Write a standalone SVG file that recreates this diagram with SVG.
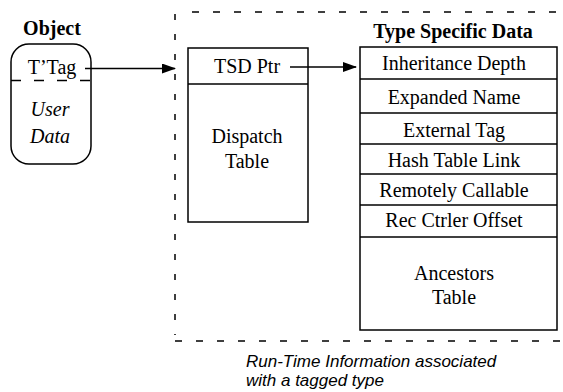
<svg xmlns="http://www.w3.org/2000/svg" width="563" height="392" viewBox="0 0 563 392">
<style>
.t{font-family:"Liberation Serif","Times New Roman",serif;font-size:20px;fill:#000;text-anchor:middle}
.b{font-weight:bold}
.i{font-style:italic}
.box{fill:#fff;stroke:#000;stroke-width:1.5}
.ln{stroke:#000;stroke-width:1.5;fill:none}
.frame{stroke:#000;stroke-width:1.5;fill:none;stroke-dasharray:7 14}
.cap{font-family:"Liberation Sans",Arial,sans-serif;font-size:17px;font-style:italic;fill:#000}
</style>
<defs>
<marker id="ah" markerWidth="14" markerHeight="10" refX="13" refY="5" orient="auto" markerUnits="userSpaceOnUse">
<path d="M0,0 L14,5 L0,10 Z" fill="#000"/>
</marker>
</defs>
<rect width="563" height="392" fill="#fff"/>
<g id="frame">
<line class="frame" x1="192" y1="12" x2="563" y2="12"/>
<line class="frame" x1="175" y1="14" x2="175" y2="335" style="stroke-dasharray:6 14"/>
<line class="frame" x1="175" y1="341" x2="563" y2="341"/>
</g>
<g id="object">
<text class="t b" x="52" y="35">Object</text>
<rect class="box" x="11" y="44" width="80" height="120" rx="18" ry="18"/>
<line class="ln" x1="11" y1="80.5" x2="91" y2="80.5" style="stroke-dasharray:10 13"/>
<text class="t" x="52" y="74">T’Tag</text>
<text class="t i" x="50" y="116">User</text>
<text class="t i" x="50" y="143">Data</text>
</g>
<g id="dispatch">
<rect class="box" x="188" y="48" width="120" height="174"/>
<line class="ln" x1="188" y1="84" x2="308" y2="84"/>
<text class="t" x="247" y="73">TSD Ptr</text>
<text class="t" x="247" y="143">Dispatch</text>
<text class="t" x="247" y="168">Table</text>
</g>
<g id="tsd">
<text class="t b" x="453" y="38">Type Specific Data</text>
<rect class="box" x="360" y="47" width="197" height="283"/>
<line class="ln" x1="360" y1="79" x2="557" y2="79"/>
<line class="ln" x1="360" y1="113" x2="557" y2="113"/>
<line class="ln" x1="360" y1="144" x2="557" y2="144"/>
<line class="ln" x1="360" y1="174" x2="557" y2="174"/>
<line class="ln" x1="360" y1="205" x2="557" y2="205"/>
<line class="ln" x1="360" y1="237" x2="557" y2="237"/>
<text class="t" x="454" y="70">Inheritance Depth</text>
<text class="t" x="454" y="104">Expanded Name</text>
<text class="t" x="454" y="137">External Tag</text>
<text class="t" x="454" y="167">Hash Table Link</text>
<text class="t" x="454" y="197">Remotely Callable</text>
<text class="t" x="454" y="227">Rec Ctrler Offset</text>
<text class="t" x="454" y="280">Ancestors</text>
<text class="t" x="454" y="304">Table</text>
</g>
<g id="connectors">
<line class="ln" x1="85" y1="68.5" x2="175" y2="68.5" marker-end="url(#ah)"/>
<line class="ln" x1="290" y1="67" x2="356" y2="67" marker-end="url(#ah)"/>
</g>
<g id="caption">
<text class="cap" x="246" y="367">Run-Time Information associated</text>
<text class="cap" x="246" y="386">with a tagged type</text>
</g>
</svg>
